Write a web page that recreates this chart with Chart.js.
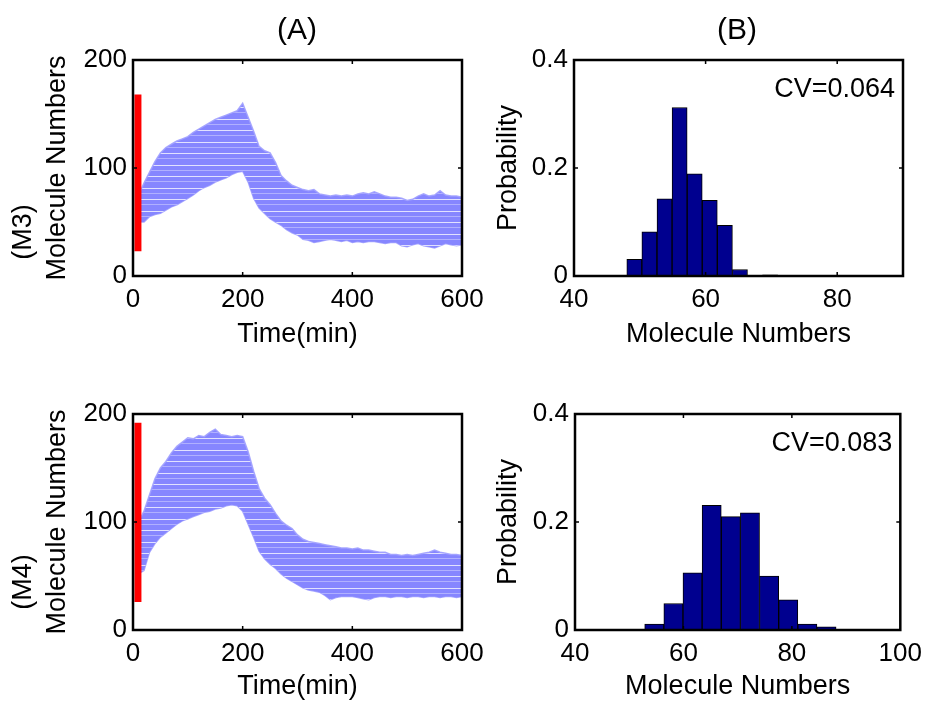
<!DOCTYPE html>
<html>
<head>
<meta charset="utf-8">
<script src="https://cdn.jsdelivr.net/npm/chart.js@4.4.1/dist/chart.umd.min.js"></script>
<style>
  body { margin: 0; background: #fff; }
  #page { position: relative; width: 930px; height: 706px; overflow: hidden;
          font-family: "Liberation Sans", Arial, sans-serif; color: #000; }
  #page canvas { position: absolute; }
  .lbl { position: absolute; white-space: nowrap; line-height: 1;
         transform: translate(-50%, -50%); }
  .panel { font-size: 30px; }
  .row { font-size: 27px; transform: translate(-50%, -50%) rotate(-90deg); }
</style>
</head>
<body>
<div id="page">
  <canvas id="m3Time" width="500" height="354" style="left:0;top:0"></canvas>
  <canvas id="m3Hist" width="460" height="354" style="left:470px;top:0"></canvas>
  <canvas id="m4Time" width="500" height="352" style="left:0;top:354px"></canvas>
  <canvas id="m4Hist" width="460" height="352" style="left:470px;top:354px"></canvas>
  <div class="lbl panel" style="left:297px;top:29px">(A)</div>
  <div class="lbl panel" style="left:737px;top:29px">(B)</div>
  <div class="lbl row" style="left:22px;top:232px">(M3)</div>
  <div class="lbl row" style="left:22px;top:582px">(M4)</div>
</div>
<script>
// time axis of the simulated trajectories (min)
const timeMin = [10, 20, 30, 40, 50, 60, 70, 80, 90, 100,
  110, 120, 130, 140, 150, 160, 170, 180, 190, 200,
  210, 220, 230, 240, 250, 260, 270, 280, 290, 300,
  310, 320, 330, 340, 350, 360, 370, 380, 390, 400,
  410, 420, 430, 440, 450, 460, 470, 480, 490, 500,
  510, 520, 530, 540, 550, 560, 570, 580, 590, 600];

// upper / lower edge of the trajectory band, M3
const m3Upper = [75, 86, 96, 106, 114, 119, 122, 125, 127, 129,
  133, 136, 139, 142, 145, 147, 149, 151, 153, 160,
  147, 134, 120, 116, 114, 105, 93, 88, 84, 82,
  80, 79, 80, 76, 75, 74, 75, 74, 75, 74,
  76, 77, 76, 78, 76, 74, 73, 73, 72, 70,
  71, 74, 76, 74, 75, 79, 75, 74, 74, 73];
const m3Lower = [50, 50, 55, 57, 58, 61, 64, 66, 69, 72,
  75, 79, 82, 84, 87, 89, 91, 94, 96, 97,
  87, 72, 63, 58, 53, 50, 47, 43, 40, 38,
  34, 33, 31, 32, 33, 34, 33, 32, 33, 31,
  32, 31, 32, 32, 31, 30, 31, 31, 28, 27,
  29, 30, 28, 27, 26, 28, 30, 29, 28, 29];

// upper / lower edge of the trajectory band, M4
const m4Upper = [100, 110, 125, 140, 150, 156, 164, 170, 174, 178,
  177, 180, 179, 183, 186, 181, 180, 179, 180, 179,
  165, 147, 131, 122, 116, 108, 101, 97, 94, 88,
  84, 82, 81, 80, 79, 78, 77, 76, 76, 75,
  76, 74, 74, 73, 72, 72, 70, 70, 69, 70,
  69, 70, 71, 72, 74, 72, 71, 70, 70, 69];
const m4Lower = [52, 55, 72, 80, 86, 90, 94, 98, 101, 103,
  105, 107, 109, 110, 112, 113, 115, 116, 115, 110,
  98, 86, 73, 66, 61, 57, 52, 48, 45, 42,
  39, 37, 36, 35, 32, 28, 30, 31, 31, 31,
  30, 29, 28, 30, 31, 31, 30, 31, 31, 30,
  31, 31, 30, 31, 31, 30, 31, 31, 30, 31];

// red marker (initial distribution range)
const redBarTime = 9;
const m3RedBar = [23, 168];
const m4RedBar = [26, 192];

// histograms at steady state
const m3BinCenters = [49.17, 51.46, 53.76, 56.05, 58.34, 60.63, 62.93, 65.22, 67.51, 69.80];
const m3Prob = [0.031, 0.082, 0.143, 0.312, 0.189, 0.140, 0.094, 0.012, 0, 0.002];
const m4BinCenters = [54.62, 58.15, 61.68, 65.21, 68.74, 72.27, 75.80, 79.33, 82.86, 86.39];
const m4Prob = [0.011, 0.049, 0.106, 0.231, 0.210, 0.217, 0.100, 0.056, 0.011, 0.006];
const m3CV = "CV=0.064";
const m4CV = "CV=0.083";

Chart.defaults.font.family = '"Liberation Sans", Arial, sans-serif';
Chart.defaults.font.size = 26;
Chart.defaults.color = "#000";

// MATLAB-like box with inward ticks, plus an optional note in the corner
const boxPlugin = {
  id: "box",
  afterDatasetsDraw(chart, args, opts) {
    const { ctx, chartArea: a, scales: { x, y } } = chart;
    ctx.save();
    ctx.strokeStyle = "#000";
    ctx.lineWidth = 1.5;
    ctx.beginPath();
    x.ticks.forEach(t => {
      const px = x.getPixelForValue(t.value);
      if (px <= a.left + 2 || px >= a.right - 2) return;
      ctx.moveTo(px, a.bottom); ctx.lineTo(px, a.bottom - 4);
      ctx.moveTo(px, a.top); ctx.lineTo(px, a.top + 4);
    });
    y.ticks.forEach(t => {
      const py = y.getPixelForValue(t.value);
      if (py <= a.top + 2 || py >= a.bottom - 2) return;
      ctx.moveTo(a.left, py); ctx.lineTo(a.left + 4, py);
      ctx.moveTo(a.right, py); ctx.lineTo(a.right - 4, py);
    });
    ctx.stroke();
    ctx.lineWidth = 2.5;
    ctx.strokeRect(a.left, a.top, a.right - a.left, a.bottom - a.top);
    if (opts && opts.note) {
      ctx.fillStyle = "#000";
      ctx.font = '27px "Liberation Sans", Arial, sans-serif';
      ctx.textAlign = "right";
      ctx.textBaseline = "alphabetic";
      ctx.fillText(opts.note, a.right - 8, a.top + 37);
    }
    ctx.restore();
  }
};

// horizontal streaks like the many overlapping trajectories
function stripes(ctx) {
  const c = document.createElement("canvas");
  c.width = 4; c.height = 23;
  const g = c.getContext("2d");
  g.fillStyle = "#8686ff";
  g.fillRect(0, 0, 4, 23);
  g.fillStyle = "rgba(255,255,255,0.75)";
  g.fillRect(0, 4, 4, 1);
  g.fillRect(0, 15, 4, 1);
  g.fillStyle = "rgba(255,255,255,0.35)";
  g.fillRect(0, 9, 4, 1);
  g.fillRect(0, 20, 4, 1);
  return ctx.createPattern(c, "repeat");
}

function frameScales(box, xOpts, yOpts) {
  return {
    x: Object.assign({
      type: "linear",
      offset: false,
      grid: { display: false, drawTicks: false },
      border: { display: false },
      title: { display: true, font: { size: 27 }, padding: { top: 0, bottom: 3 } },
      afterFit: s => { s.height = box.xh; }
    }, xOpts),
    y: Object.assign({
      grid: { display: false, drawTicks: false },
      border: { display: false },
      title: { display: true, font: { size: 27 }, padding: { top: box.yt, bottom: 0 } },
      afterFit: s => { s.width = box.yw; }
    }, yOpts)
  };
}

function timeChart(id, upper, lower, redBar) {
  const canvas = document.getElementById(id);
  const ctx = canvas.getContext("2d");
  const box = { yw: 133, xh: canvas.height - 276, yt: 41 };
  const sc = frameScales(box,
    { min: 0, max: 600, ticks: { stepSize: 200, padding: 8, maxRotation: 0 } },
    { min: 0, max: 200, ticks: { stepSize: 100, padding: 6 } });
  sc.x.title.text = "Time(min)";
  sc.y.title.text = "Molecule Numbers";
  new Chart(ctx, {
    type: "line",
    data: {
      datasets: [
        {
          data: timeMin.map((t, i) => ({ x: t, y: lower[i] })),
          borderColor: "rgba(160,160,255,0.9)", borderWidth: 1.5,
          pointRadius: 0, fill: false, order: 2
        },
        {
          data: timeMin.map((t, i) => ({ x: t, y: upper[i] })),
          borderColor: "rgba(160,160,255,0.9)", borderWidth: 1.5,
          pointRadius: 0, fill: "-1", backgroundColor: stripes(ctx), order: 1
        },
        {
          data: redBar.map(v => ({ x: redBarTime, y: v })),
          borderColor: "#ff0000", borderWidth: 7, borderCapStyle: "butt",
          pointRadius: 0, fill: false, order: 0
        }
      ]
    },
    options: {
      responsive: false, animation: false, events: [], devicePixelRatio: 1,
      layout: { padding: { top: 60, right: canvas.width - 462, left: 0, bottom: 0 } },
      plugins: { legend: { display: false }, tooltip: { enabled: false }, box: {} },
      scales: sc
    },
    plugins: [boxPlugin]
  });
}

function histChart(id, centers, probs, xMax, note, right, left) {
  const canvas = document.getElementById(id);
  const ctx = canvas.getContext("2d");
  const box = { yw: left, xh: canvas.height - 276, yt: 22 };
  const sc = frameScales(box,
    { min: 40, max: xMax, ticks: { stepSize: 20, padding: 8, maxRotation: 0 },
      afterBuildTicks: s => { s.ticks = s.ticks.filter(t => t.value % 20 === 0); } },
    { min: 0, max: 0.4, ticks: { stepSize: 0.2, padding: 6 } });
  sc.x.title.text = "Molecule Numbers";
  sc.y.title.text = "Probability";
  new Chart(ctx, {
    type: "bar",
    data: {
      datasets: [{
        data: centers.map((c, i) => ({ x: c, y: probs[i] })),
        backgroundColor: "#00008f", borderColor: "#000", borderWidth: 1,
        barPercentage: 1, categoryPercentage: 1
      }]
    },
    options: {
      responsive: false, animation: false, events: [], devicePixelRatio: 1,
      layout: { padding: { top: 60, right: canvas.width - right, left: 0, bottom: 0 } },
      plugins: { legend: { display: false }, tooltip: { enabled: false }, box: { note: note } },
      scales: sc
    },
    plugins: [boxPlugin]
  });
}

timeChart("m3Time", m3Upper, m3Lower, m3RedBar);
timeChart("m4Time", m4Upper, m4Lower, m4RedBar);
histChart("m3Hist", m3BinCenters, m3Prob, 90, m3CV, 433, 104);
histChart("m4Hist", m4BinCenters, m4Prob, 100, m4CV, 432, 105);
</script>
</body>
</html>
